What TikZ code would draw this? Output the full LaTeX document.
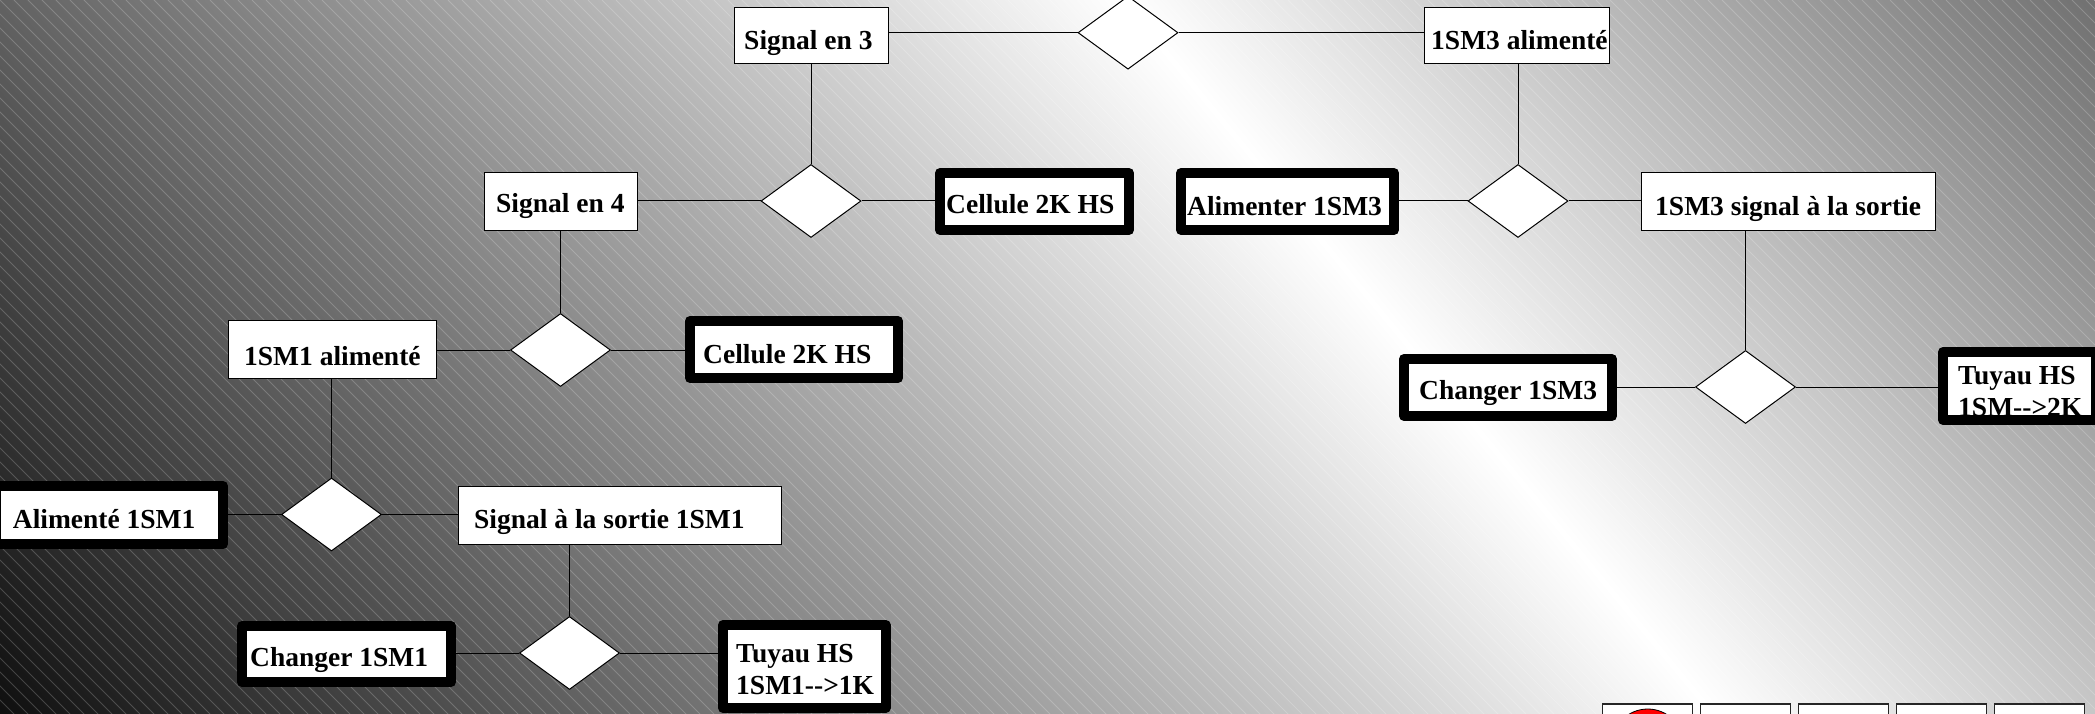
\documentclass[tikz,border=0pt]{standalone}
\usepackage{fontspec}
\setmainfont{Liberation Serif}
\usetikzlibrary{shapes.geometric}
\pgfdeclarehorizontalshading{bgshade}{100bp}{
  color(0bp)=(black!94);
  color(25bp)=(black!94);
  color(56.9bp)=(white);
  color(75bp)=(black!56);
  color(100bp)=(black!56)}
\tikzset{
  thinbox/.style={draw=black,fill=white,line width=1pt,inner sep=0pt},
  thickbox/.style={draw=black,fill=white,line width=10pt,line join=round,inner sep=0pt},
  btn/.style={draw=black!85,fill=white,line width=1.2pt,inner sep=0pt},
  rel/.style={draw=black,fill=white,line width=1pt,diamond,shape aspect=1.37,minimum width=100pt,minimum height=73pt,inner sep=0pt},
  conn/.style={draw=black,line width=1pt},
  lab/.style={anchor=base west,inner sep=0pt,font=\fontsize{27.5pt}{32pt}\selectfont\bfseries}
}
\newcommand\boxnode[6]{%
  \pgfmathsetmacro\bw{#5-#3}\pgfmathsetmacro\bh{#6-#4}%
  \pgfmathsetmacro\bcx{(#3+#5)/2}\pgfmathsetmacro\bcy{(#4+#6)/2}%
  \node[#1,minimum width=\bw pt,minimum height=\bh pt] (#2) at (\bcx,\bcy) {};}
\begin{document}
\begin{tikzpicture}[x=1pt,y=-1pt]
\useasboundingbox (0,0) rectangle (2095,714);
\clip (0,0) rectangle (2095,714);
% background
\begin{scope}[transform canvas={shift={(0pt,-714pt)},rotate=39.6}]
  \shade[shading=bgshade] (0,-1500) rectangle (2069,1500);
\end{scope}
\foreach \c in {-700,-686,...,2100}
  \draw[white,opacity=.2,line width=.8pt] (\c,0) -- ({\c+714},714);
% diamonds
\node[rel] (d1) at (1128,32.7) {};
\node[rel] (d2) at (811,201) {};
\node[rel] (d3) at (1518,201) {};
\node[rel] (d4) at (1745.5,387) {};
\node[rel] (d5) at (560.5,350) {};
\node[rel] (d6) at (331.5,514.5) {};
\node[rel] (d7) at (569.5,653) {};
% boxes
\boxnode{thinbox}{s3}{734.5}{7.5}{888}{64}
\boxnode{thinbox}{a3}{1424.5}{7.5}{1609}{64}
\boxnode{thinbox}{s4}{484}{172.5}{637}{230}
\boxnode{thinbox}{ss3}{1641}{172.5}{1935}{230}
\boxnode{thinbox}{a1}{228.5}{320.5}{436}{378}
\boxnode{thinbox}{ss1}{458.5}{486}{781}{544}
\boxnode{thickbox}{c1}{940}{173}{1129}{230}
\boxnode{thickbox}{al3}{1181}{173}{1394}{230}
\boxnode{thickbox}{ch3}{1404}{359}{1612}{416}
\boxnode{thickbox}{t2}{1943}{352}{2096}{420}
\boxnode{thickbox}{c2}{690}{321}{898}{378}
\boxnode{thickbox}{al1}{-4.3}{486}{223}{544}
\boxnode{thickbox}{ch1}{242}{626}{451}{682}
\boxnode{thickbox}{t1}{723}{625}{885.5}{708}
% connectors
\draw[conn] (d1.west) -- (d1.west -| s3.east);
\draw[conn] (d1.east) -- (d1.east -| a3.west);
\draw[conn] (d2.north) -- (d2.north |- s3.south);
\draw[conn] (d2.west) -- (d2.west -| s4.east);
\draw[conn] (d2.east) -- (d2.east -| c1.west);
\draw[conn] (d3.north) -- (d3.north |- a3.south);
\draw[conn] (d3.west) -- (d3.west -| al3.east);
\draw[conn] (d3.east) -- (d3.east -| ss3.west);
\draw[conn] (d4.north) -- (d4.north |- ss3.south);
\draw[conn] (d4.west) -- (d4.west -| ch3.east);
\draw[conn] (d4.east) -- (d4.east -| t2.west);
\draw[conn] (d5.north) -- (d5.north |- s4.south);
\draw[conn] (d5.west) -- (d5.west -| a1.east);
\draw[conn] (d5.east) -- (d5.east -| c2.west);
\draw[conn] (d6.north) -- (d6.north |- a1.south);
\draw[conn] (d6.west) -- (d6.west -| al1.east);
\draw[conn] (d6.east) -- (d6.east -| ss1.west);
\draw[conn] (d7.north) -- (d7.north |- ss1.south);
\draw[conn] (d7.west) -- (d7.west -| ch1.east);
\draw[conn] (d7.east) -- (d7.east -| t1.west);
% labels
\node[lab] (ls3) at (744,50) {Signal en 3};
\node[lab] (la3) at (1431,50) {1SM3 alimenté};
\node[lab] (ls4) at (496,212) {Signal en 4};
\node[lab] (lss3) at (1655,215) {1SM3 signal à la sortie};
\node[lab] (la1) at (244,365) {1SM1 alimenté};
\node[lab] (lss1) at (474,528) {Signal à la sortie 1SM1};
\node[lab] (lc1) at (946,214) {Cellule 2K HS};
\node[lab] (lal3) at (1187,215) {Alimenter 1SM3};
\node[lab] (lch3) at (1419,399) {Changer 1SM3};
\node[lab] (lc2) at (703,363) {Cellule 2K HS};
\node[lab] (lal1) at (12.7,528) {Alimenté 1SM1};
\node[lab] (lch1) at (250,666) {Changer 1SM1};
\node[lab] (lt1a) at (736,662) {Tuyau HS};
\node[lab] (lt1b) at (736,694) {1SM1-{}->1K};
\begin{scope}
  \clip (1948,357) rectangle (2091,415);
  \node[lab] (lt2a) at (1958,384) {Tuyau HS};
  \node[lab] (lt2b) at (1958,416) {1SM-{}->2K};
\end{scope}
% buttons
\boxnode{btn}{b1}{1602.5}{704}{1692.5}{760}
\boxnode{btn}{b2}{1700.5}{704}{1790.5}{760}
\boxnode{btn}{b3}{1798.5}{704}{1888.5}{760}
\boxnode{btn}{b4}{1896.5}{704}{1986.5}{760}
\boxnode{btn}{b5}{1994.5}{704}{2084.5}{760}
\node[circle,draw=black,fill=red,line width=.8pt,minimum size=72pt,inner sep=0pt] (rc) at (1647.7,745) {};
\end{tikzpicture}
\end{document}
